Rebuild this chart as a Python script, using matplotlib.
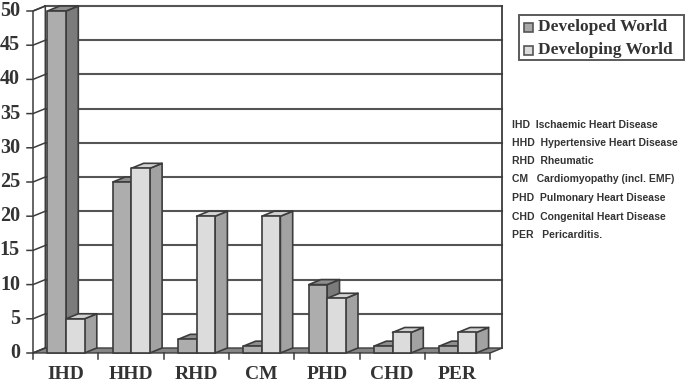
import matplotlib
matplotlib.use("Agg")
import matplotlib.pyplot as plt
from matplotlib.patches import Polygon, Rectangle

categories = ["IHD", "HHD", "RHD", "CM", "PHD", "CHD", "PER"]
developed = [50, 25, 2, 1, 10, 1, 1]
developing = [5, 27, 20, 20, 8, 3, 3]
y_ticks = [0, 5, 10, 15, 20, 25, 30, 35, 40, 45, 50]
legend_labels = ["Developed World", "Developing World"]
notes = [
    "IHD  Ischaemic Heart Disease",
    "HHD  Hypertensive Heart Disease",
    "RHD  Rheumatic",
    "CM   Cardiomyopathy (incl. EMF)",
    "PHD  Pulmonary Heart Disease",
    "CHD  Congenital Heart Disease",
    "PER   Pericarditis.",
]
note_y = [125, 143, 161, 179, 198, 217, 235]

W, H = 685, 384
LINE = "#3c3c3c"
GRID = "#555555"

fig = plt.figure(figsize=(W / 100, H / 100), dpi=100)
ax = fig.add_axes([0, 0, 1, 1])
# axes span the whole picture: one x unit is a category, y is the value
x_px = 65.3
y_px = 6.84
ax.set_xlim(-33 / x_px, (W - 33) / x_px)
ax.set_ylim(-(H - 353) / y_px, 353 / y_px)
ax.axis("off")

# depth of the fake 3d box
dx = 12.3 / x_px
dy = 5 / y_px
n = len(categories)


def poly(points, face, edge=LINE, lw=1.2, z=2):
    ax.add_patch(Polygon(points, closed=True, facecolor=face, edgecolor=edge, linewidth=lw, zorder=z, joinstyle="round"))


def bar3d(x0, w, v, front, side, top):
    poly([(x0 + w, 0), (x0 + w + dx, dy), (x0 + w + dx, v + dy), (x0 + w, v)], side, z=3)
    poly([(x0, v), (x0 + w, v), (x0 + w + dx, v + dy), (x0 + dx, v + dy)], top, z=3)
    poly([(x0, 0), (x0 + w, 0), (x0 + w, v), (x0, v)], front, z=3)


# walls and floor
poly([(0, 0), (dx, dy), (dx, 50 + dy), (0, 50)], "white", lw=1.1)
poly([(0, 0), (n, 0), (n + dx, dy), (dx, dy)], "#858585", lw=1.0)
ax.plot([n + dx, n + dx], [dy, 50 + dy], color=LINE, lw=1.3, zorder=2)

for t in y_ticks:
    if t > 0:
        ax.plot([dx, n + dx], [t + dy, t + dy], color=GRID, lw=1.5, zorder=1)
    ax.plot([-6 / x_px, 0, dx], [t, t, t + dy], color=LINE, lw=1.1, zorder=2)
    ax.text(-13 / x_px, t, str(t), ha="right", va="center", fontsize=14.5, fontweight="bold",
            family="Liberation Serif", color="#333333")

for i in range(n + 1):
    ax.plot([i, i], [0, -5.5 / y_px], color=LINE, lw=1.1, zorder=2)

gap = 14.5 / x_px
w = 18.5 / x_px
for i, cat in enumerate(categories):
    bar3d(i + gap, w, developed[i], "#adadad", "#7b7b7b", "#8e8e8e")
    bar3d(i + gap + w, w, developing[i], "#dcdcdc", "#a2a2a2", "#d2d2d2")
    ax.text(i + 0.5, -21.5 / y_px, cat, ha="center", va="center", fontsize=14, fontweight="bold",
            family="Liberation Serif", color="#333333")


def fx(px):
    return px / W


def fy(py):
    return 1 - py / H


# legend box
fig.add_artist(Rectangle((fx(519), fy(60)), 165 / W, 45 / H, transform=fig.transFigure,
                         facecolor="white", edgecolor="#5a5a5a", linewidth=1.4))
for py, label, color in zip([27, 50], legend_labels, ["#a8a8a8", "#dcdcdc"]):
    fig.add_artist(Rectangle((fx(524), fy(py + 4.5)), 9 / W, 9 / H, transform=fig.transFigure,
                             facecolor=color, edgecolor="#555555", linewidth=1.2))
    fig.text(fx(538), fy(py), label, ha="left", va="center", fontsize=12.5, fontweight="bold",
             family="Liberation Serif", color="#333333")

for py, note in zip(note_y, notes):
    fig.text(fx(512), fy(py), note, ha="left", va="center", fontsize=7.5, fontweight="bold",
             family="Liberation Sans", color="#333333")

fig.savefig("out.png", dpi=100)
